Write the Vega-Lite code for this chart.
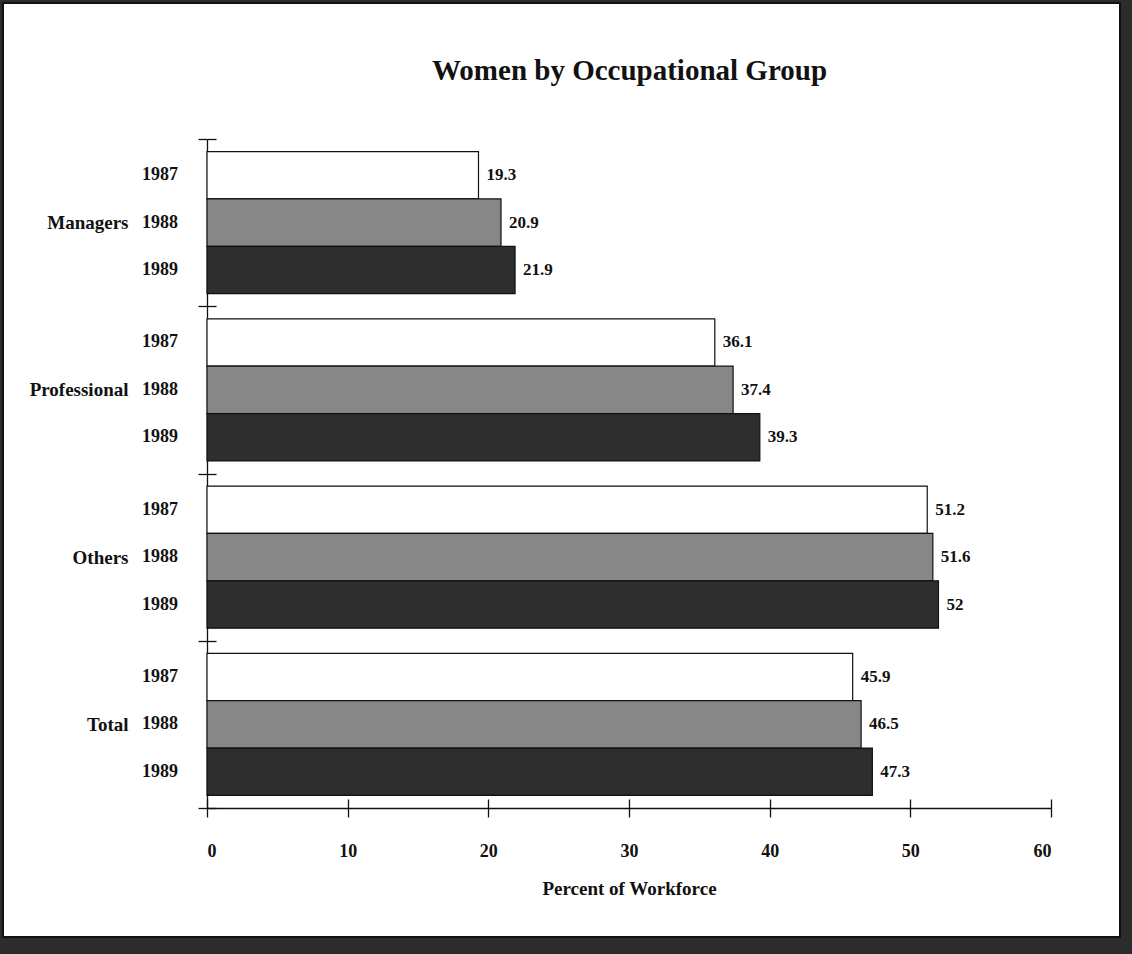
{
  "$schema": "https://vega.github.io/schema/vega-lite/v6.json",
  "width": 1117,
  "height": 934,
  "autosize": "none",
  "padding": {"left": 3, "top": 3, "right": 12, "bottom": 17},
  "background": "#2c2c2c",
  "title": {
    "text": "Women by Occupational Group",
    "font": "Liberation Serif",
    "fontSize": 29,
    "fontWeight": "bold",
    "color": "#111111",
    "anchor": "middle",
    "frame": "group",
    "offset": -92,
    "dx": 68
  },
  "data": {
    "values": [
      {"group": "Managers", "year": "1987", "pct": 19.3},
      {"group": "Managers", "year": "1988", "pct": 20.9},
      {"group": "Managers", "year": "1989", "pct": 21.9},
      {"group": "Professional", "year": "1987", "pct": 36.1},
      {"group": "Professional", "year": "1988", "pct": 37.4},
      {"group": "Professional", "year": "1989", "pct": 39.3},
      {"group": "Others", "year": "1987", "pct": 51.2},
      {"group": "Others", "year": "1988", "pct": 51.6},
      {"group": "Others", "year": "1989", "pct": 52},
      {"group": "Total", "year": "1987", "pct": 45.9},
      {"group": "Total", "year": "1988", "pct": 46.5},
      {"group": "Total", "year": "1989", "pct": 47.3}
    ]
  },
  "resolve": {"axis": {"x": "independent", "y": "independent"}},
  "layer": [
    {
      "mark": {"type": "bar", "stroke": "#111111", "strokeWidth": 1.2},
      "encoding": {
        "x": {
          "field": "pct",
          "type": "quantitative",
          "scale": {"domain": [0, 60], "range": [204, 1048], "nice": false},
          "axis": {
            "orient": "bottom",
            "offset": -129,
            "values": [0, 10, 20, 30, 40, 50, 60],
            "tickSize": 9,
            "tickColor": "#111111",
            "tickWidth": 1.3,
            "domainColor": "#111111",
            "domainWidth": 1.3,
            "grid": false,
            "labelFont": "Liberation Serif",
            "labelFontSize": 18,
            "labelFontWeight": "bold",
            "labelColor": "#111111",
            "labelPadding": 25,
            "title": "Percent of Workforce",
            "titleFont": "Liberation Serif",
            "titleFontSize": 19,
            "titleFontWeight": "bold",
            "titleColor": "#111111",
            "titlePadding": 19
          }
        },
        "y": {
          "field": "group",
          "type": "nominal",
          "sort": ["Managers", "Professional", "Others", "Total"],
          "scale": {"type": "band", "range": [136, 805], "paddingInner": 0, "paddingOuter": 0},
          "axis": {
            "orient": "left",
            "offset": -204,
            "tickBand": "extent",
            "tickSize": 9,
            "tickColor": "#111111",
            "tickWidth": 1.3,
            "domainColor": "#111111",
            "domainWidth": 1.3,
            "grid": false,
            "labelFont": "Liberation Serif",
            "labelFontSize": 19,
            "labelFontWeight": "bold",
            "labelColor": "#111111",
            "labelPadding": 70,
            "title": null
          }
        },
        "yOffset": {
          "field": "year",
          "type": "nominal",
          "sort": ["1987", "1988", "1989"],
          "scale": {"paddingInner": 0, "paddingOuter": 0.265}
        },
        "color": {
          "field": "year",
          "type": "nominal",
          "scale": {"domain": ["1987", "1988", "1989"], "range": ["#ffffff", "#878787", "#2e2e2e"]},
          "legend": null
        }
      }
    },
    {
      "mark": {"type": "text", "align": "left", "baseline": "middle", "dx": 8, "font": "Liberation Serif", "fontSize": 17, "fontWeight": "bold", "color": "#111111"},
      "encoding": {
        "x": {
          "field": "pct",
          "type": "quantitative",
          "axis": {
            "orient": "bottom",
            "offset": -129,
            "values": [0, 10, 20, 30, 40, 50, 60],
            "tickSize": -9,
            "tickColor": "#111111",
            "tickWidth": 1.3,
            "domain": false,
            "labels": false,
            "grid": false,
            "title": null
          }
        },
        "y": {
          "field": "group",
          "type": "nominal",
          "sort": ["Managers", "Professional", "Others", "Total"],
          "axis": {
            "orient": "left",
            "offset": -204,
            "tickBand": "extent",
            "tickSize": -9,
            "tickColor": "#111111",
            "tickWidth": 1.3,
            "domain": false,
            "labels": false,
            "grid": false,
            "title": null
          }
        },
        "yOffset": {"field": "year", "type": "nominal", "sort": ["1987", "1988", "1989"]},
        "text": {"field": "pct", "type": "quantitative"}
      }
    },
    {
      "mark": {"type": "text", "align": "right", "baseline": "middle", "dx": -29, "font": "Liberation Serif", "fontSize": 18, "fontWeight": "bold", "color": "#111111"},
      "encoding": {
        "x": {"datum": 0, "type": "quantitative", "axis": null},
        "y": {"field": "group", "type": "nominal", "sort": ["Managers", "Professional", "Others", "Total"], "axis": null},
        "yOffset": {"field": "year", "type": "nominal", "sort": ["1987", "1988", "1989"]},
        "text": {"field": "year", "type": "nominal"}
      }
    }
  ],
  "config": {
    "view": {"fill": "#ffffff", "stroke": "#111111", "strokeWidth": 2}
  }
}
